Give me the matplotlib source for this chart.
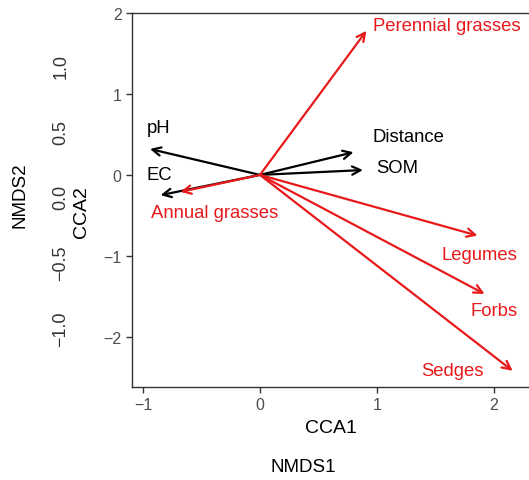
import matplotlib
matplotlib.use("Agg")
import matplotlib.pyplot as plt

plt.rcParams["font.family"] = ["Liberation Sans", "DejaVu Sans"]

# environmental vectors (black)
env_names = ["pH", "EC", "Distance", "SOM"]
env_x = [-0.94, -0.85, 0.80, 0.88]
env_y = [0.32, -0.25, 0.28, 0.06]
env_label_x = [-0.97, -0.97, 0.96, 0.99]
env_label_y = [0.59, 0.00, 0.47, 0.09]

# functional groups (red)
grp_names = ["Perennial grasses", "Annual grasses", "Legumes", "Forbs", "Sedges"]
grp_x = [0.91, -0.68, 1.86, 1.92, 2.16]
grp_y = [1.78, -0.21, -0.75, -1.47, -2.42]
grp_label_x = [0.97, -0.93, 2.20, 2.20, 1.91]
grp_label_y = [1.85, -0.46, -0.98, -1.67, -2.42]
grp_label_ha = ["left", "left", "right", "right", "right"]

cca_xticks = [-1, 0, 1, 2]
cca_yticks = [-2, -1, 0, 1, 2]
nmds_yticks = [-1.0, -0.5, 0.0, 0.5, 1.0]

RED = "#E8191B"
GREY = "#4D4D4D"

W, H = 529, 481
fig = plt.figure(figsize=(W / 100, H / 100), dpi=100)

# outer (NMDS) axes: only the y tick labels are shown
ax0 = fig.add_axes([75 / W, 1 - 388 / H, 1 - 75 / W, 374 / H])
ax0.set_ylim(-1.45, 1.40)
ax0.set_xlim(0, 1)
ax0.set_yticks(nmds_yticks)
ax0.set_yticklabels([f"{v:.1f}".replace("-", "\u2212") for v in nmds_yticks],
                    rotation=90, va="center", fontsize=13, color="#333333")
ax0.tick_params(axis="y", length=0, pad=4)
ax0.set_xticks([])
for s in ax0.spines.values():
    s.set_visible(False)
ax0.patch.set_visible(False)

# inner (CCA) axes
ax = fig.add_axes([132 / W, 1 - 388 / H, 1 - 132 / W, 374 / H])
ax.set_xlim(-1.094, 2.30)
ax.set_ylim(-2.62, 2.0)
ax.set_xticks(cca_xticks)
ax.set_yticks(cca_yticks)
ax.tick_params(labelsize=11.5, labelcolor=GREY, color="#333333", length=4, width=1)
ax.spines["right"].set_visible(False)
for k in ["left", "bottom", "top"]:
    ax.spines[k].set_color("#333333")
    ax.spines[k].set_linewidth(1.0)
ax.set_xlabel("CCA1", fontsize=14, labelpad=5)
ax.set_ylabel("CCA2", fontsize=14)
ax.yaxis.set_label_coords((90 - 132) / (W - 132), 0.47)
ax.patch.set_visible(False)

for x, y, lx, ly, name in zip(env_x, env_y, env_label_x, env_label_y, env_names):
    ax.annotate("", xy=(x, y), xytext=(0, 0),
                arrowprops=dict(arrowstyle="->,head_length=0.6,head_width=0.3",
                                color="black", lw=1.6, shrinkA=0, shrinkB=0))
    ax.text(lx, ly, name, ha="left", va="center", fontsize=13.3, color="black")

for x, y, lx, ly, ha, name in zip(grp_x, grp_y, grp_label_x, grp_label_y, grp_label_ha, grp_names):
    ax.annotate("", xy=(x, y), xytext=(0, 0),
                arrowprops=dict(arrowstyle="->,head_length=0.6,head_width=0.3",
                                color=RED, lw=1.6, shrinkA=0, shrinkB=0))
    ax.text(lx, ly, name, ha=ha, va="center", fontsize=13.3, color=RED)

fig.text(20 / W, 1 - 195 / H, "NMDS2", rotation=90, ha="center", va="center", fontsize=13.5)
fig.text(303 / W, 1 - 468 / H, "NMDS1", ha="center", va="center", fontsize=13.5)

fig.savefig("out.png", dpi=100)
